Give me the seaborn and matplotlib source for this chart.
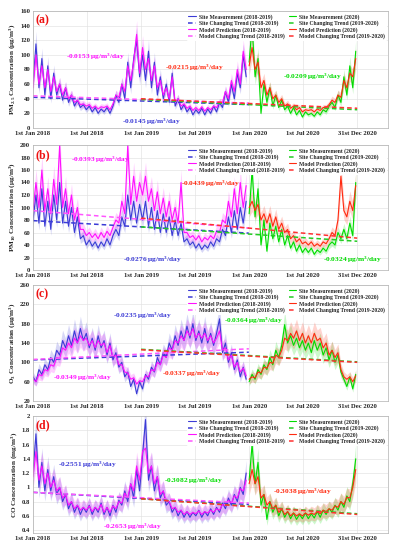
import numpy as np
import pandas as pd
import matplotlib
matplotlib.use("Agg")
import matplotlib.pyplot as plt
import matplotlib.dates as mdates
import seaborn as sns

# ---------------- data (~10-day spacing) ----------------
dates_1819 = pd.date_range("2018-01-01", periods=73, freq="10D")
dates_2020 = pd.date_range("2020-01-01", periods=37, freq="10D")

pm25_site_1819 = [60,115,55,95,45,85,40,75,45,60,38,55,35,45,30,38,28,32,25,30,22,28,20,26,22,28,20,30,
                  45,35,60,40,90,55,95,120,70,100,65,105,55,90,45,70,40,60,35,75,30,40,25,32,22,28,18,25,
                  20,27,18,26,20,30,22,35,28,50,35,60,40,75,55,100,70]
pm25_model_1819 = [55,100,60,85,55,80,50,70,50,60,45,55,40,45,35,38,32,33,30,32,27,30,26,29,28,30,25,33,
                   45,42,60,50,85,65,90,128,75,110,80,95,65,85,55,65,45,55,40,70,35,40,30,33,27,30,24,28,
                   24,29,23,28,25,30,28,35,35,50,40,65,50,80,60,105,80]
pm25_site_2020 = [90,140,70,95,20,60,35,55,30,45,28,38,25,30,20,28,18,24,15,22,18,20,16,22,18,25,22,30,
                  35,28,45,35,70,45,85,55,105]
pm25_model_2020 = [85,110,80,90,55,65,45,55,40,45,35,40,30,33,27,30,25,28,22,25,24,25,22,26,24,28,28,32,
                   38,35,45,42,65,55,75,70,95]

pm10_site_1819 = [80,120,75,130,70,110,65,120,80,140,75,110,70,100,60,85,50,55,40,48,38,45,35,45,38,50,40,55,
                  65,55,85,70,120,80,110,75,105,80,110,70,100,65,95,60,90,60,85,55,80,55,75,45,50,40,45,35,
                  42,33,40,35,45,38,50,45,65,55,85,60,95,65,100,75,110]
pm10_model_1819 = [95,140,100,160,95,130,90,145,105,200,100,130,90,120,80,100,65,65,55,60,52,58,50,60,52,62,55,68,
                   80,75,110,90,200,105,150,110,140,120,150,110,130,95,125,90,115,85,110,80,100,75,140,60,60,52,55,48,
                   55,45,52,48,55,50,62,60,80,75,110,85,130,90,140,100,135]
pm10_site_2020 = [90,160,85,130,40,80,30,75,50,70,45,65,40,55,35,45,30,40,28,35,28,35,25,32,28,35,30,40,
                  45,40,60,50,65,50,75,55,140]
pm10_model_2020 = [100,110,95,105,80,90,75,90,70,85,65,75,60,65,50,55,45,50,42,45,40,45,38,42,38,45,42,50,
                   60,55,80,150,95,85,110,95,135]

o3_site_1819 = [70,60,85,75,95,85,110,100,125,115,145,130,155,135,165,140,170,145,160,130,150,125,155,130,145,115,140,105,
                120,90,100,70,80,50,65,35,60,45,75,65,90,80,110,95,120,110,140,125,155,135,165,145,175,150,180,145,
                165,140,170,140,160,135,160,190,120,140,100,120,85,105,70,90,65]
o3_model_1819 = [65,60,75,72,85,82,95,92,110,108,130,125,140,130,150,140,155,145,150,135,145,130,145,135,140,120,135,110,
                 115,95,95,80,78,65,68,55,62,60,72,70,85,82,100,95,115,110,130,125,145,140,155,145,165,155,170,150,
                 160,150,160,145,155,140,150,165,125,130,105,115,90,100,80,88,72]
o3_site_2020 = [60,75,65,85,75,95,85,110,95,125,110,135,178,140,155,135,150,130,145,125,140,120,145,125,140,115,130,105,
                125,100,115,80,65,50,70,45,75]
o3_model_2020 = [65,70,68,80,78,90,88,100,98,115,110,125,150,145,160,150,165,145,160,140,155,140,160,145,150,130,140,115,
                 125,110,120,85,70,65,70,60,72]

co_site_1819 = [1.20,1.75,1.00,1.35,0.95,1.25,0.95,1.15,0.90,1.00,0.80,0.90,0.70,0.80,0.65,0.75,0.62,0.72,0.65,0.75,
                0.62,0.72,0.65,0.78,0.62,0.72,0.60,0.75,0.65,0.82,0.75,0.95,0.80,1.05,0.85,1.25,0.95,1.45,1.95,1.10,
                1.30,0.95,1.15,0.85,0.95,0.75,0.80,0.65,0.72,0.60,0.68,0.58,0.66,0.58,0.65,0.60,0.68,0.58,0.66,0.60,
                0.70,0.62,0.72,0.65,0.78,0.70,0.85,0.75,0.90,0.80,1.00,0.90,1.20]
co_model_1819 = [1.15,1.50,1.10,1.30,1.05,1.20,1.00,1.10,0.95,1.00,0.85,0.90,0.75,0.80,0.70,0.75,0.68,0.72,0.68,0.74,
                 0.66,0.72,0.68,0.76,0.65,0.72,0.65,0.74,0.70,0.80,0.78,0.92,0.85,1.05,0.95,1.30,1.10,1.50,1.55,1.20,
                 1.30,1.05,1.15,0.90,0.95,0.80,0.80,0.70,0.72,0.65,0.68,0.62,0.66,0.62,0.65,0.63,0.67,0.62,0.66,0.64,
                 0.68,0.65,0.70,0.68,0.76,0.74,0.82,0.78,0.88,0.85,0.98,0.95,1.10]
co_site_2020 = [1.10,1.60,1.05,1.35,0.75,0.90,0.55,0.80,0.65,0.75,0.60,0.70,0.58,0.66,0.56,0.64,0.55,0.62,0.56,0.64,
                0.56,0.63,0.57,0.66,0.58,0.68,0.62,0.70,0.65,0.75,0.68,0.80,0.72,0.88,0.80,1.05,1.40]
co_model_2020 = [1.05,1.25,1.05,1.15,0.85,0.90,0.75,0.80,0.70,0.75,0.65,0.70,0.62,0.66,0.60,0.64,0.60,0.63,0.60,0.64,
                 0.61,0.64,0.62,0.66,0.63,0.68,0.66,0.70,0.68,0.74,0.72,0.80,0.76,0.86,0.85,1.00,1.25]

# trend lines: [start, end] values
trend_span_1819 = ["2018-01-01", "2019-12-31"]
trend_span_1920 = ["2019-01-01", "2020-12-31"]
pm25_trends = {"site_1819": [42, 32], "model_1819": [44, 34], "site_1920": [39, 25], "model_1920": [40, 27]}
pm10_trends = {"site_1819": [79, 59], "model_1819": [95, 67], "site_1920": [69, 46], "model_1920": [83, 51]}
o3_trends = {"site_1819": [105, 121], "model_1819": [106, 128], "site_1920": [127, 101], "model_1920": [126, 100]}
co_trends = {"site_1819": [0.93, 0.76], "model_1819": [0.93, 0.78], "site_1920": [0.84, 0.63], "model_1920": [0.84, 0.62]}

pm25_notes = [("-0.0153 μg/m$^3$/day", "model_1819", 0.175, 0.607), ("-0.0215 μg/m$^3$/day", "model_1920", 0.456, 0.513),
              ("-0.0145 μg/m$^3$/day", "site_1819", 0.335, 0.05), ("-0.0209 μg/m$^3$/day", "site_1920", 0.786, 0.44)]
pm10_notes = [("-0.0393 μg/m$^3$/day", "model_1819", 0.189, 0.88), ("-0.0439 μg/m$^3$/day", "model_1920", 0.499, 0.688),
              ("-0.0276 μg/m$^3$/day", "site_1819", 0.336, 0.08), ("-0.0324 μg/m$^3$/day", "site_1920", 0.90, 0.08)]
o3_notes = [("-0.0235 μg/m$^3$/day", "site_1819", 0.308, 0.733), ("-0.0364 μg/m$^3$/day", "site_1920", 0.622, 0.69),
            ("-0.0349 μg/m$^3$/day", "model_1819", 0.138, 0.198), ("-0.0337 μg/m$^3$/day", "model_1920", 0.445, 0.233)]
co_notes = [("-0.2551 μg/m$^3$/day", "site_1819", 0.154, 0.58), ("-0.3082 μg/m$^3$/day", "site_1920", 0.453, 0.444),
            ("-0.3038 μg/m$^3$/day", "model_1920", 0.758, 0.35), ("-0.2653 μg/m$^3$/day", "model_1819", 0.279, 0.05)]

xtick_dates = ["2018-01-01", "2018-07-01", "2019-01-01", "2019-07-01", "2020-01-01", "2020-07-01", "2020-12-31"]
xtick_labels = ["1st Jan 2018", "1st Jul 2018", "1st Jan 2019", "1st Jul 2019", "1st Jan 2020", "1st Jul 2020", "31st Dec 2020"]

BAND = 0.15  # relative half-width of shaded uncertainty band

# ---------------- style ----------------
sns.set_style("whitegrid")
plt.rcParams["font.family"] = ["Liberation Serif", "DejaVu Serif"]
plt.rcParams["font.weight"] = "bold"
plt.rcParams["mathtext.fontset"] = "custom"
plt.rcParams["mathtext.rm"] = "Liberation Serif:bold"
plt.rcParams["mathtext.it"] = "Liberation Serif:bold"
plt.rcParams["mathtext.bf"] = "Liberation Serif:bold"
plt.rcParams["mathtext.default"] = "rm"

colors = {"site_1819": "#3b3bd6", "model_1819": "#ff10ff", "site_1920": "#00dd00", "model_1920": "#ff2a10"}
trend_colors = {"site_1819": "#3b3bd6", "model_1819": "#ff55ff", "site_1920": "#22cc22", "model_1920": "#ff3030"}

panels = [
    dict(tag="(a)", ylabel="PM$_{2.5}$ Concentration (μg/m$^3$)", ylim=(0, 160), yticks=np.arange(0, 161, 20),
         s1819=pm25_site_1819, m1819=pm25_model_1819, s2020=pm25_site_2020, m2020=pm25_model_2020,
         trends=pm25_trends, notes=pm25_notes, box=(11, 128)),
    dict(tag="(b)", ylabel="PM$_{10}$ Concentration (μg/m$^3$)", ylim=(0, 200), yticks=np.arange(0, 201, 20),
         s1819=pm10_site_1819, m1819=pm10_model_1819, s2020=pm10_site_2020, m2020=pm10_model_2020,
         trends=pm10_trends, notes=pm10_notes, box=(145, 270)),
    dict(tag="(c)", ylabel="O$_3$ Concentration (μg/m$^3$)", ylim=(20, 260), yticks=np.arange(20, 261, 40),
         s1819=o3_site_1819, m1819=o3_model_1819, s2020=o3_site_2020, m2020=o3_model_2020,
         trends=o3_trends, notes=o3_notes, box=(285, 401)),
    dict(tag="(d)", ylabel="CO Concentration (mg/m$^3$)", ylim=(0.36, 2.0), yticks=np.arange(0.4, 2.01, 0.2),
         s1819=co_site_1819, m1819=co_model_1819, s2020=co_site_2020, m2020=co_model_2020,
         trends=co_trends, notes=co_notes, box=(416, 533)),
]

W, H = 398, 550
fig = plt.figure(figsize=(W / 100, H / 100), dpi=100)

labels = {"site_1819": ("Site Measurement (2018-2019)", "Site Changing Trend (2018-2019)"),
          "model_1819": ("Model Prediction (2018-2019)", "Model Changing Trend (2018-2019)"),
          "site_1920": ("Site Measurement (2020)", "Site Changing Trend (2019-2020)"),
          "model_1920": ("Model Prediction (2020)", "Model Changing Trend (2019-2020)")}

for p in panels:
    top, bot = p["box"]
    ax = fig.add_axes([33 / W, 1 - bot / H, 355 / W, (bot - top) / H])
    handles = {}
    series = [("site_1819", dates_1819, p["s1819"]), ("model_1819", dates_1819, p["m1819"]),
              ("site_1920", dates_2020, p["s2020"]), ("model_1920", dates_2020, p["m2020"])]
    for key, d, vals in series:
        v = np.asarray(vals, dtype=float)
        ax.fill_between(d, v * (1 - BAND), v * (1 + BAND), color=colors[key], alpha=0.2, lw=0)
        sns.lineplot(x=d, y=v, ax=ax, color=colors[key], linewidth=0.8)
        handles[key + "_line"] = ax.lines[-1]
    for key in ["site_1819", "model_1819", "site_1920", "model_1920"]:
        span = trend_span_1819 if key.endswith("1819") else trend_span_1920
        sns.lineplot(x=pd.to_datetime(span), y=p["trends"][key], ax=ax, color=trend_colors[key],
                     linewidth=1.1, linestyle=(0, (3, 2)))
        handles[key + "_trend"] = ax.lines[-1]
    order = ["site_1819", "model_1819", "site_1920", "model_1920"]
    hs, ls = [], []
    for key in order:
        hs += [handles[key + "_line"], handles[key + "_trend"]]
        ls += [labels[key][0], labels[key][1]]
    leg = ax.legend(hs, ls, loc="upper right", bbox_to_anchor=(1.0, 1.0), ncol=2, fontsize=4.1,
                    frameon=True, facecolor="white", edgecolor="none", framealpha=1,
                    handlelength=1.3, handletextpad=0.5, labelspacing=0.12, columnspacing=0.8,
                    borderpad=0.3, borderaxespad=0.2)
    for t in leg.get_texts():
        t.set_fontweight("bold")

    ax.set_xlim(pd.Timestamp("2018-01-01"), pd.Timestamp("2021-04-14"))
    ax.set_ylim(*p["ylim"])
    ax.set_yticks(p["yticks"])
    ax.set_yticklabels([f"{v:g}" for v in p["yticks"]])
    ax.set_xticks(pd.to_datetime(xtick_dates))
    ax.set_xticklabels(xtick_labels)
    ax.tick_params(axis="both", labelsize=4.8, length=0, pad=2)
    for lab in ax.get_xticklabels() + ax.get_yticklabels():
        lab.set_fontweight("bold")
    ax.set_xlabel("")
    ax.set_ylabel(p["ylabel"], fontsize=5.2, fontweight="bold", labelpad=2)
    ax.grid(True, color="#e2e2e2", linewidth=0.45)
    for s in ax.spines.values():
        s.set_color("#b0b0b0")
        s.set_linewidth(0.5)
    ax.text(0.006, 0.92, p["tag"], transform=ax.transAxes, color="#ee1111", fontsize=8.5,
            fontweight="bold", va="center", ha="left")
    for txt, key, xf, yf in p["notes"]:
        ax.text(xf, yf, txt, transform=ax.transAxes, color=colors[key], fontsize=5.3,
                fontweight="bold", ha="center", va="center")

fig.savefig("out.png", dpi=100)
